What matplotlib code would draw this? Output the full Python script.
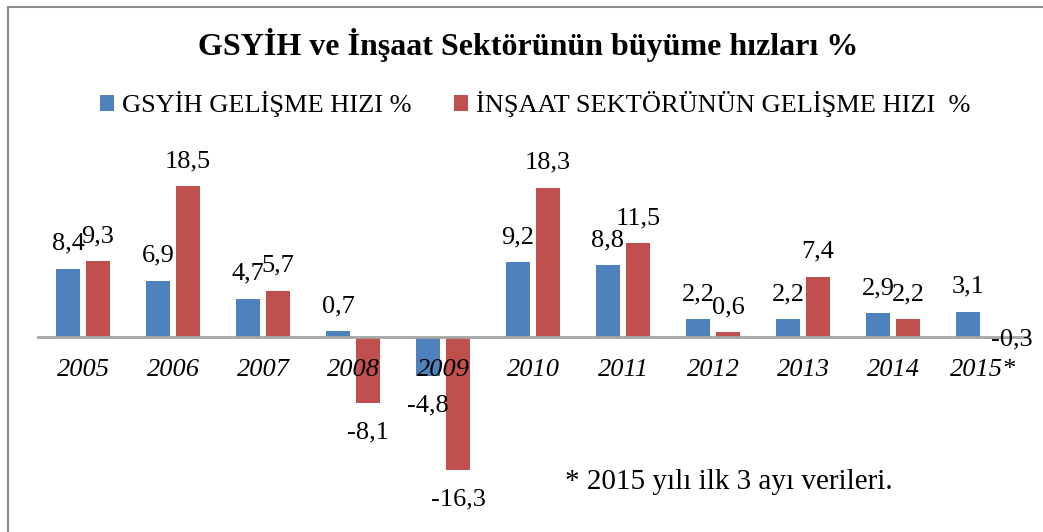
import numpy as np
import matplotlib
matplotlib.use("Agg")
from matplotlib import pyplot as plt
from matplotlib.lines import Line2D

plt.rcParams['font.family'] = ['Liberation Serif', 'DejaVu Serif']

years = ["2005", "2006", "2007", "2008", "2009", "2010", "2011", "2012", "2013", "2014", "2015*"]
gsyih = [8.4, 6.9, 4.7, 0.7, -4.8, 9.2, 8.8, 2.2, 2.2, 2.9, 3.1]
insaat = [9.3, 18.5, 5.7, -8.1, -16.3, 18.3, 11.5, 0.6, 7.4, 2.2, -0.3]

blue = '#4F81BD'
red = '#C0504D'

fig = plt.figure(figsize=(10.43, 5.32), dpi=100)
ax = fig.add_axes([38/1043, 32/532, 990/1043, 326/532])

x = np.arange(len(years))
w = 0.267
off = 0.167
b1 = ax.bar(x - off, gsyih, w, color=blue, label='GSYİH GELİŞME HIZI %', zorder=2)
b2 = ax.bar(x + off, insaat, w, color=red, label='İNŞAAT SEKTÖRÜNÜN GELİŞME HIZI  %', zorder=2)

ax.set_xlim(-0.5, len(years) - 0.5)
ax.set_ylim(-20, 20)

def fmt(v):
    return f"{v:.1f}".replace('.', ',')

# excel pushes the last label up to the axis line
special = {(1, 10): (10, 0)}

for k, (vals, bars) in enumerate([(gsyih, b1), (insaat, b2)]):
    for i, v in enumerate(vals):
        xc = x[i] + (off if k else -off)
        dy = 18 if v >= 0 else -21
        dx = 0
        if (k, i) in special:
            dx, dy = special[(k, i)]
        ax.annotate(fmt(v), (xc, v), xytext=(dx, dy), textcoords='offset points',
                    ha='center', va='center', fontsize=19, zorder=4)

for s in ['top', 'right', 'left']:
    ax.spines[s].set_visible(False)
ax.spines['bottom'].set_position(('data', 0))
ax.spines['bottom'].set_color('#a6a6a6')
ax.spines['bottom'].set_linewidth(2)
ax.set_axisbelow(False)
ax.xaxis.set_zorder(3)
ax.set_yticks([])
ax.set_xticks(x)
ax.set_xticklabels(years, fontsize=19, style='italic')
ax.tick_params(axis='x', length=0, pad=15.5)

fig.text(528/1043, 1 - 45/532, 'GSYİH ve İnşaat Sektörünün büyüme hızları %',
         ha='center', va='center', fontsize=23, fontweight='bold')

fig.legend(handles=[b1, b2], loc='center', bbox_to_anchor=(535/1043, 1 - 104/532),
           ncol=2, frameon=False, fontsize=19, handlelength=0.55, handleheight=0.55,
           handletextpad=0.3, columnspacing=1.6)

fig.text(565/1043, 1 - 482/532, '* 2015 yılı ilk 3 ayı verileri.', ha='left', va='center', fontsize=21)

# chart border
fig.add_artist(Line2D([8/1043, 8/1043], [0, 1 - 7/532], color='#8c8c8c', lw=1.5))
fig.add_artist(Line2D([8/1043, 1], [1 - 7/532, 1 - 7/532], color='#8c8c8c', lw=1.5))

fig.savefig('out.png', dpi=100)
